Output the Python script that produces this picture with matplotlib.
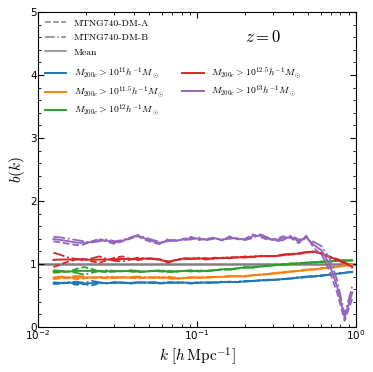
import numpy as np
import matplotlib
matplotlib.use("Agg")
import matplotlib.pyplot as plt
from matplotlib.lines import Line2D

plt.rcParams['mathtext.fontset'] = 'cm'
plt.rcParams['axes.unicode_minus'] = False

# k grid (h/Mpc)
k = np.array([0.0125, 0.0140, 0.0156, 0.0174, 0.0195, 0.0218, 0.0244, 0.0272, 0.0304, 0.0340,
              0.0380, 0.0424, 0.0474, 0.0530, 0.0592, 0.0661, 0.0739, 0.0826, 0.0923, 0.1031,
              0.115, 0.129, 0.144, 0.161, 0.180, 0.201, 0.224, 0.251, 0.280, 0.313,
              0.350, 0.391, 0.437, 0.488, 0.545, 0.609, 0.681, 0.761, 0.850, 0.950])

# bias b(k) per mass cut, run A (dashed) and run B (dash-dot)
b11_A = [0.68, 0.69, 0.70, 0.67, 0.68, 0.66, 0.69, 0.70, 0.71, 0.70, 0.69, 0.70, 0.71, 0.70, 0.69, 0.70, 0.71, 0.70, 0.69, 0.70,
         0.71, 0.70, 0.71, 0.72, 0.71, 0.72, 0.73, 0.74, 0.74, 0.75, 0.76, 0.77, 0.78, 0.79, 0.80, 0.81, 0.83, 0.84, 0.86, 0.87]
b11_B = [0.71, 0.70, 0.71, 0.72, 0.70, 0.73, 0.71, 0.69, 0.70, 0.71, 0.70, 0.71, 0.70, 0.71, 0.70, 0.71, 0.70, 0.71, 0.70, 0.71,
         0.70, 0.71, 0.72, 0.71, 0.72, 0.73, 0.73, 0.74, 0.75, 0.75, 0.76, 0.77, 0.79, 0.80, 0.81, 0.82, 0.83, 0.85, 0.86, 0.88]
b115_A = [0.76, 0.77, 0.78, 0.76, 0.77, 0.79, 0.78, 0.77, 0.78, 0.79, 0.78, 0.77, 0.78, 0.79, 0.78, 0.77, 0.76, 0.78, 0.79, 0.78,
          0.79, 0.80, 0.79, 0.80, 0.81, 0.80, 0.82, 0.83, 0.84, 0.85, 0.86, 0.88, 0.89, 0.90, 0.91, 0.93, 0.94, 0.95, 0.97, 0.99]
b115_B = [0.79, 0.80, 0.79, 0.81, 0.80, 0.78, 0.79, 0.80, 0.79, 0.78, 0.79, 0.80, 0.79, 0.78, 0.79, 0.80, 0.78, 0.77, 0.78, 0.79,
          0.78, 0.79, 0.80, 0.81, 0.80, 0.81, 0.82, 0.83, 0.84, 0.86, 0.87, 0.88, 0.89, 0.91, 0.92, 0.93, 0.95, 0.96, 0.98, 1.00]
b12_A = [0.86, 0.87, 0.88, 0.92, 0.95, 0.92, 0.88, 0.87, 0.88, 0.89, 0.88, 0.87, 0.88, 0.89, 0.88, 0.87, 0.88, 0.89, 0.90, 0.88,
         0.89, 0.90, 0.91, 0.92, 0.93, 0.94, 0.95, 0.96, 0.97, 0.98, 0.99, 1.00, 1.01, 1.02, 1.03, 1.03, 1.04, 1.05, 1.05, 1.06]
b12_B = [0.90, 0.89, 0.88, 0.86, 0.83, 0.86, 0.89, 0.90, 0.89, 0.88, 0.90, 0.89, 0.88, 0.89, 0.90, 0.89, 0.88, 0.89, 0.88, 0.90,
         0.89, 0.90, 0.92, 0.91, 0.93, 0.95, 0.94, 0.96, 0.97, 0.99, 0.99, 1.01, 1.01, 1.02, 1.02, 1.04, 1.04, 1.05, 1.06, 1.05]
b125_A = [0.95, 1.00, 1.04, 1.07, 1.08, 1.04, 1.02, 1.06, 1.10, 1.12, 1.08, 1.06, 1.08, 1.09, 1.07, 1.04, 1.06, 1.08, 1.09, 1.08,
          1.07, 1.10, 1.09, 1.11, 1.10, 1.12, 1.11, 1.12, 1.13, 1.12, 1.14, 1.15, 1.16, 1.18, 1.19, 1.17, 1.12, 1.08, 1.03, 0.96]
b125_B = [1.18, 1.14, 1.10, 1.08, 1.06, 1.09, 1.12, 1.08, 1.05, 1.04, 1.07, 1.10, 1.09, 1.08, 1.06, 1.02, 1.07, 1.09, 1.08, 1.10,
          1.09, 1.08, 1.10, 1.09, 1.11, 1.10, 1.12, 1.13, 1.12, 1.13, 1.15, 1.16, 1.17, 1.19, 1.20, 1.16, 1.10, 1.06, 1.01, 0.94]
b13_A = [1.36, 1.34, 1.32, 1.30, 1.31, 1.36, 1.40, 1.35, 1.32, 1.36, 1.40, 1.44, 1.38, 1.34, 1.31, 1.40, 1.36, 1.40, 1.43, 1.38,
         1.40, 1.42, 1.37, 1.44, 1.39, 1.40, 1.47, 1.43, 1.38, 1.40, 1.44, 1.41, 1.33, 1.45, 1.25, 1.15, 0.90, 0.55, 0.10, 0.45]
b13_B = [1.43, 1.42, 1.40, 1.38, 1.36, 1.34, 1.36, 1.39, 1.36, 1.38, 1.42, 1.46, 1.42, 1.38, 1.35, 1.36, 1.38, 1.38, 1.39, 1.42,
         1.38, 1.40, 1.39, 1.40, 1.41, 1.38, 1.41, 1.47, 1.42, 1.36, 1.38, 1.45, 1.39, 1.39, 1.35, 1.28, 1.10, 0.75, 0.20, 0.65]

mass_labels = ['11', '11.5', '12', '12.5', '13']
runs_A = [b11_A, b115_A, b12_A, b125_A, b13_A]
runs_B = [b11_B, b115_B, b12_B, b125_B, b13_B]
colors = ['C0', 'C1', 'C2', 'C3', 'C4']

fig = plt.figure(figsize=(3.73, 3.72), dpi=100)
ax = fig.add_axes([0.102, 0.121, 0.852, 0.847])

ax.axhline(1.0, color='gray', lw=1.8, zorder=1)

handles = []
for bA, bB, c, m in zip(runs_A, runs_B, colors, mass_labels):
    bA = np.array(bA)
    bB = np.array(bB)
    ax.plot(k, bA, ls='--', color=c, lw=1.3)
    ax.plot(k, bB, ls='-.', color=c, lw=1.3)
    ax.plot(k, 0.5 * (bA + bB), ls='-', color=c, lw=1.4)
    handles.append(Line2D([], [], color=c, lw=1.4,
                          label=r'$M_{200c} > 10^{%s} h^{-1} M_\odot$' % m))

ax.set_xscale('log')
ax.set_xlim(0.01, 1.0)
ax.set_ylim(0, 5)
ax.set_yticks([0, 1, 2, 3, 4, 5])
ax.set_yticks(np.arange(0, 5.01, 0.2), minor=True)
ax.tick_params(which='both', direction='in', top=True, right=True, labelsize=7.5, pad=1)
ax.tick_params(which='major', length=4)
ax.tick_params(which='minor', length=2)
ax.set_xlabel(r'$k\ [h\,\mathrm{Mpc}^{-1}]$', fontsize=11, labelpad=2)
ax.set_ylabel(r'$b(k)$', fontsize=11, labelpad=2)

ax.text(0.65, 0.905, r'$z=0$', transform=ax.transAxes, fontsize=12)

style_handles = [Line2D([], [], color='gray', ls='--', lw=1.1, label='MTNG740-DM-A'),
                 Line2D([], [], color='gray', ls='-.', lw=1.1, label='MTNG740-DM-B'),
                 Line2D([], [], color='gray', ls='-', lw=1.1, label='Mean')]
leg1 = ax.legend(handles=style_handles, loc='upper left', frameon=False,
                 prop={'family': 'cmr10', 'size': 7}, handlelength=2.2,
                 borderaxespad=0.3, labelspacing=0.6)
ax.add_artist(leg1)
ax.legend(handles=handles, loc='upper left', bbox_to_anchor=(0.0, 0.852), ncol=2,
          frameon=False, fontsize=7, handlelength=2.2, columnspacing=1.8,
          borderaxespad=0.3, labelspacing=0.35)

fig.savefig('out.png', dpi=100)
